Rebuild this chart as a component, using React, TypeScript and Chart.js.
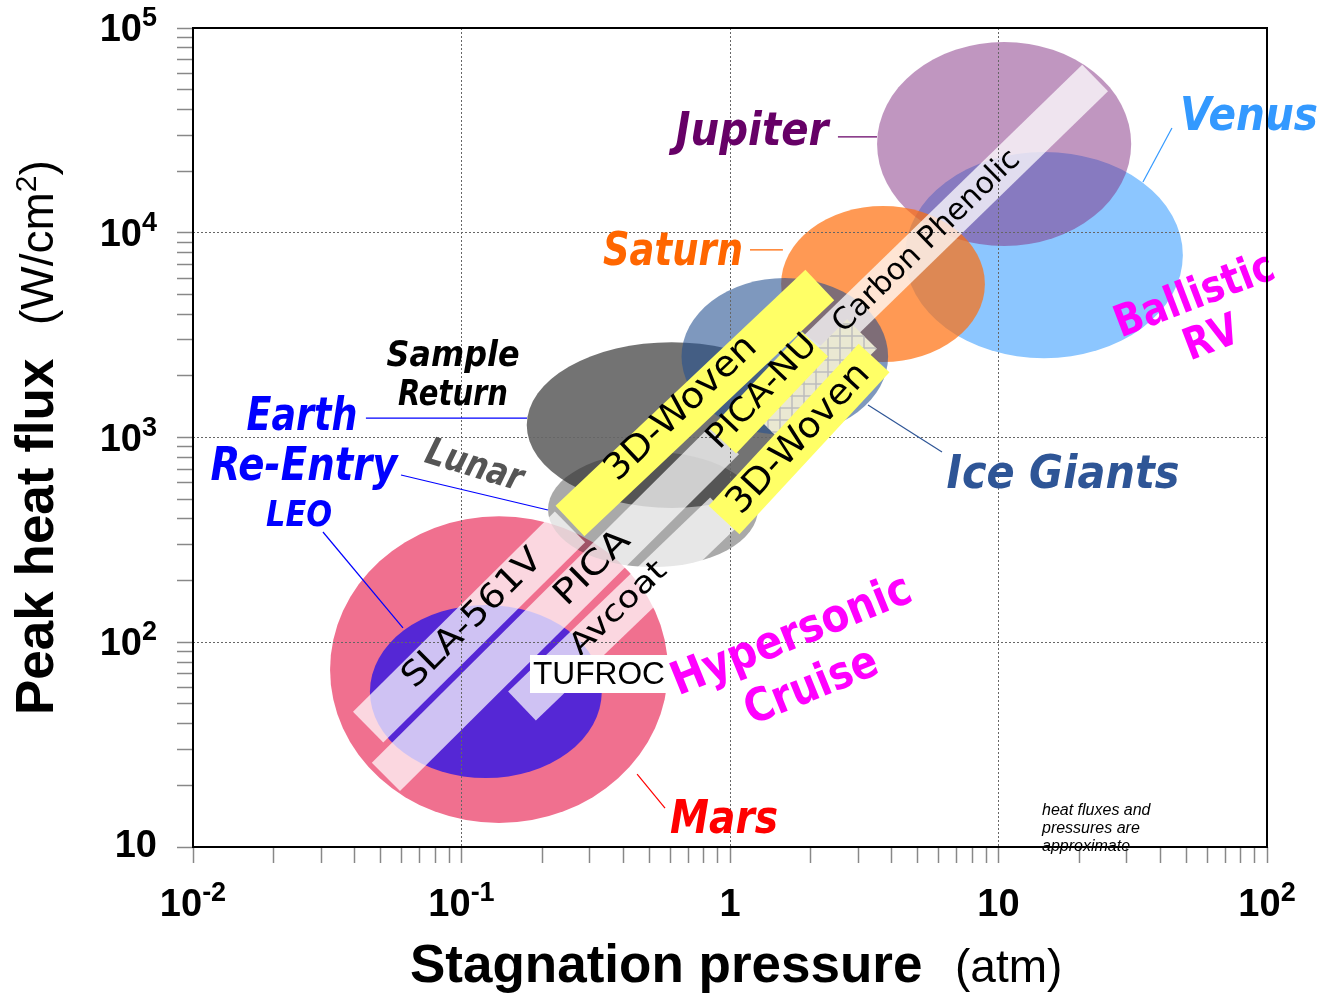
import React, { useEffect, useRef } from 'react';
import { Chart, registerables } from 'chart.js';

Chart.register(...registerables);

// ---------------- axes ----------------
const pressureRange = [0.01, 100]; // atm
const heatFluxRange = [10, 100000]; // W/cm2
const xMajorTicks = [0.01, 0.1, 1, 10, 100];
const xTickBase = ['10', '10', '1', '10', '10'];
const xTickExp = ['-2', '-1', '', '', '2'];
const yMajorTicks = [10, 100, 1000, 10000, 100000];
const yTickBase = ['10', '10', '10', '10', '10'];
const yTickExp = ['', '2', '3', '4', '5'];

// ---------------- entry environments (ellipses) ----------------
const regionNames = ['Mars', 'Earth LEO', 'Venus / Ballistic RV', 'Jupiter', 'Saturn', 'Earth Sample Return', 'Ice Giants', 'Lunar'];
const regionPressureMin = [0.0324, 0.0456, 4.49, 3.53, 1.55, 0.175, 0.66, 0.21];
const regionPressureMax = [0.587, 0.333, 48.6, 31.2, 8.9, 2.1, 3.88, 1.27];
const regionHeatFluxMin = [13.1, 21.7, 2440, 8620, 2340, 453, 1030, 233];
const regionHeatFluxMax = [412, 152, 24800, 85400, 13500, 2920, 6010, 849];

// ---------------- TPS materials (bands) ----------------
const materialNames = ['SLA-561V', 'PICA', 'Avcoat', 'Carbon Phenolic', '', '3D-Woven', 'PICA-NU', '3D-Woven'];
const materialPressureStart = [0.0449, 0.0523, 0.168, 1.823, 1.385, 0.2535, 0.942, 0.95];
const materialHeatFluxStart = [38.5, 22.0, 48.8, 2259, 1113, 391, 961, 395];
const materialPressureEnd = [0.2535, 0.957, 0.95, 22.9, 3.1, 2.16, 2.073, 3.44];
const materialHeatFluxEnd = [366, 972, 433, 57000, 3203, 5556, 2861, 2445];

// ---------------- styles ----------------
const regionColors = [
  '#F0708F',
  '#5527D5',
  '#8CC6FF',
  'rgba(129,45,129,0.5)',
  'rgba(255,109,12,0.7)',
  '#737373',
  'rgba(35,80,145,0.59)',
  'rgba(40,40,40,0.4)',
];

type BandStyle = { fill: string; width: number; front: boolean; label: null | { t: number; size: number; len: number; off: number } };
const bandStyles: BandStyle[] = [
  { fill: 'rgba(255,255,255,0.72)', width: 43, front: false, label: { t: 0.53, size: 34, len: 182, off: 3 } },
  { fill: 'rgba(255,255,255,0.72)', width: 40, front: false, label: { t: 0.615, size: 34, len: 92, off: 2 } },
  { fill: 'rgba(255,255,255,0.72)', width: 40, front: false, label: { t: 0.49, size: 30, len: 122, off: 3 } },
  { fill: 'rgba(255,255,255,0.75)', width: 37, front: false, label: { t: 0.43, size: 30, len: 248, off: 0 } },
  { fill: 'hatch', width: 42, front: false, label: null },
  { fill: '#FFFF66', width: 42, front: true, label: { t: 0.46, size: 36, len: 194, off: 5 } },
  { fill: '#FFFF66', width: 36, front: true, label: { t: 0.47, size: 33, len: 144, off: 5 } },
  { fill: '#FFFF66', width: 42, front: true, label: { t: 0.5, size: 36, len: 192, off: 0 } },
];

// region labels, anchored in log10(pressure), log10(heat flux)
const regionLabels = [
  { t: 'Jupiter', lx: 0.0819, ly: 4.4286, c: '#660066', s: 46, w: 153, it: true, rot: 0, mid: false },
  { t: 'Venus', lx: 1.933, ly: 4.5018, c: '#3399FF', s: 46, w: 138, it: true, rot: 0, mid: false },
  { t: 'Saturn', lx: -0.2123, ly: 3.8425, c: '#FF6600', s: 46, w: 140, it: true, rot: 0, mid: false },
  { t: 'Ice Giants', lx: 1.2402, ly: 2.7534, c: '#2E5596', s: 46, w: 233, it: true, rot: 0, mid: false },
  { t: 'Sample', lx: -1.0317, ly: 3.3492, c: '#000000', s: 36, w: 133, it: true, rot: 0, mid: false },
  { t: 'Return', lx: -1.0317, ly: 3.1587, c: '#000000', s: 36, w: 110, it: true, rot: 0, mid: false },
  { t: 'Earth', lx: -1.594, ly: 3.0366, c: '#0000FF', s: 46, w: 111, it: true, rot: 0, mid: false },
  { t: 'Re-Entry', lx: -1.5866, ly: 2.7924, c: '#0000FF', s: 46, w: 187, it: true, rot: 0, mid: false },
  { t: 'LEO', lx: -1.6052, ly: 2.5678, c: '#0000FF', s: 36, w: 66, it: true, rot: 0, mid: false },
  { t: 'Mars', lx: -0.0223, ly: 1.0684, c: '#FF0000', s: 46, w: 108, it: true, rot: 0, mid: false },
  { t: 'Lunar', lx: -0.9534, ly: 2.8559, c: '#555555', s: 38, w: 100, it: true, rot: 17, mid: true },
  { t: 'Hypersonic', lx: 0.2309, ly: 2.0256, c: '#FF00FF', s: 46, w: 255, it: false, rot: -22, mid: true },
  { t: 'Cruise', lx: 0.3054, ly: 1.7766, c: '#FF00FF', s: 46, w: 140, it: false, rot: -22, mid: true },
  { t: 'Ballistic', lx: 1.7318, ly: 3.6862, c: '#FF00FF', s: 44, w: 168, it: false, rot: -21, mid: true },
  { t: 'RV', lx: 1.7952, ly: 3.4762, c: '#FF00FF', s: 44, w: 56, it: false, rot: -21, mid: true },
];

// leader lines (log10 coordinates)
const leaderLines = [
  { a: [0.402, 4.468], b: [0.5475, 4.468], c: '#660066' },
  { a: [1.646, 4.512], b: [1.538, 4.248], c: '#3399FF' },
  { a: [0.0745, 3.916], b: [0.197, 3.916], c: '#FF6600' },
  { a: [0.514, 3.159], b: [0.7896, 2.929], c: '#2E5596' },
  { a: [-1.356, 3.095], b: [-0.756, 3.095], c: '#0000FF' },
  { a: [-1.2253, 2.817], b: [-0.678, 2.646], c: '#0000FF' },
  { a: [-1.516, 2.5385], b: [-1.218, 2.07], c: '#0000FF' },
  { a: [-0.346, 1.3565], b: [-0.242, 1.19], c: '#FF0000' },
];

const tufrocBox = { lx0: -0.7449, lx1: -0.2309, ly0: 1.7521, ly1: 1.9377 };
const noteLines = ['heat fluxes and', 'pressures are', 'approximate'];
const noteAnchor = { lx: 1.162, ly: 1.1563 };

const LABEL_FONT = '"DejaVu Sans", sans-serif';
const AXIS_FONT = '"Liberation Sans", Arial, sans-serif';

function minorTicks(lo: number, hi: number) {
  const out: number[] = [];
  for (let k = Math.round(Math.log10(lo)); k < Math.round(Math.log10(hi)); k++) {
    for (let n = 1; n <= 9; n++) out.push(n * Math.pow(10, k));
  }
  out.push(hi);
  return out;
}
const isMajor = (v: number) => Math.abs(Math.log10(v) - Math.round(Math.log10(v))) < 1e-9;

function fittedText(ctx: CanvasRenderingContext2D, text: string, x: number, y: number, font: string, color: string, width: number, rot = 0, baseline: CanvasTextBaseline = 'alphabetic') {
  ctx.save();
  ctx.translate(x, y);
  ctx.rotate((rot * Math.PI) / 180);
  ctx.font = font;
  ctx.fillStyle = color;
  ctx.textAlign = 'center';
  ctx.textBaseline = baseline;
  const m = ctx.measureText(text).width;
  if (width && m > 0) ctx.scale(width / m, 1);
  ctx.fillText(text, 0, 0);
  ctx.restore();
}

function bandGeom(chart: any, i: number) {
  const { x, y } = chart.scales;
  const x0 = x.getPixelForValue(materialPressureStart[i]);
  const y0 = y.getPixelForValue(materialHeatFluxStart[i]);
  const x1 = x.getPixelForValue(materialPressureEnd[i]);
  const y1 = y.getPixelForValue(materialHeatFluxEnd[i]);
  const dx = x1 - x0, dy = y1 - y0, L = Math.hypot(dx, dy);
  const w = bandStyles[i].width / 2;
  const nx = dy / L, ny = -dx / L; // up-left normal
  const corners = [
    [x0 + nx * w, y0 + ny * w],
    [x1 + nx * w, y1 + ny * w],
    [x1 - nx * w, y1 - ny * w],
    [x0 - nx * w, y0 - ny * w],
  ];
  return { x0, y0, x1, y1, dx, dy, nx, ny, corners };
}

function drawBand(ctx: CanvasRenderingContext2D, chart: any, i: number) {
  const g = bandGeom(chart, i);
  const st = bandStyles[i];
  ctx.save();
  ctx.beginPath();
  g.corners.forEach((c, k) => (k ? ctx.lineTo(c[0], c[1]) : ctx.moveTo(c[0], c[1])));
  ctx.closePath();
  if (st.fill === 'hatch') {
    ctx.fillStyle = '#EAE8D2';
    ctx.fill();
    ctx.clip();
    const xs = g.corners.map((c) => c[0]);
    const ys = g.corners.map((c) => c[1]);
    const minX = Math.min(...xs), maxX = Math.max(...xs), minY = Math.min(...ys), maxY = Math.max(...ys);
    ctx.strokeStyle = '#BDBDBD';
    ctx.lineWidth = 1.5;
    ctx.beginPath();
    for (let gx = Math.floor(minX / 12) * 12; gx <= maxX; gx += 12) {
      ctx.moveTo(gx, minY);
      ctx.lineTo(gx, maxY);
    }
    for (let gy = Math.floor(minY / 12) * 12; gy <= maxY; gy += 12) {
      ctx.moveTo(minX, gy);
      ctx.lineTo(maxX, gy);
    }
    ctx.stroke();
  } else {
    ctx.fillStyle = st.fill;
    ctx.fill();
  }
  ctx.restore();
}

function drawBandLabel(ctx: CanvasRenderingContext2D, chart: any, i: number) {
  const st = bandStyles[i];
  if (!st.label || !materialNames[i]) return;
  const g = bandGeom(chart, i);
  const cx = g.x0 + g.dx * st.label.t + g.nx * st.label.off;
  const cy = g.y0 + g.dy * st.label.t + g.ny * st.label.off;
  const rot = (Math.atan2(g.dy, g.dx) * 180) / Math.PI;
  fittedText(ctx, materialNames[i], cx, cy, `${st.label.size}px ${LABEL_FONT}`, '#000', st.label.len, rot, 'middle');
}

function powLabel(ctx: CanvasRenderingContext2D, base: string, exp: string, x: number, y: number, align: 'center' | 'right') {
  const bf = `bold 38px ${AXIS_FONT}`;
  const ef = `bold 27px ${AXIS_FONT}`;
  ctx.font = bf;
  const bw = ctx.measureText(base).width;
  ctx.font = ef;
  const ew = exp ? ctx.measureText(exp).width : 0;
  const total = bw + ew;
  const left = align === 'center' ? x - total / 2 : x - total;
  ctx.textAlign = 'left';
  ctx.textBaseline = 'alphabetic';
  ctx.fillStyle = '#000';
  ctx.font = bf;
  ctx.fillText(base, left, y);
  if (exp) {
    ctx.font = ef;
    ctx.fillText(exp, left + bw, y - 15);
  }
}

const tpsPlugin = {
  id: 'tpsPlugin',
  beforeDatasetsDraw(chart: any) {
    const { ctx, chartArea, scales } = chart;
    const { x, y } = scales;
    ctx.save();
    ctx.beginPath();
    ctx.rect(chartArea.left, chartArea.top, chartArea.right - chartArea.left, chartArea.bottom - chartArea.top);
    ctx.clip();
    for (let i = 0; i < regionNames.length; i++) {
      const xl = x.getPixelForValue(regionPressureMin[i]);
      const xr = x.getPixelForValue(regionPressureMax[i]);
      const yt = y.getPixelForValue(regionHeatFluxMax[i]);
      const yb = y.getPixelForValue(regionHeatFluxMin[i]);
      ctx.beginPath();
      ctx.ellipse((xl + xr) / 2, (yt + yb) / 2, (xr - xl) / 2, (yb - yt) / 2, 0, 0, Math.PI * 2);
      ctx.fillStyle = regionColors[i];
      ctx.fill();
    }
    for (let i = 0; i < materialNames.length; i++) if (!bandStyles[i].front) drawBand(ctx, chart, i);
    ctx.restore();
  },
  afterDraw(chart: any) {
    const { ctx, chartArea, scales } = chart;
    const { x, y } = scales;
    const X = (l: number) => x.getPixelForValue(Math.pow(10, l));
    const Y = (l: number) => y.getPixelForValue(Math.pow(10, l));
    ctx.save();
    for (let i = 0; i < materialNames.length; i++) if (bandStyles[i].front) drawBand(ctx, chart, i);
    for (let i = 0; i < materialNames.length; i++) drawBandLabel(ctx, chart, i);

    // TUFROC box
    const bx0 = X(tufrocBox.lx0), bx1 = X(tufrocBox.lx1), by0 = Y(tufrocBox.ly1), by1 = Y(tufrocBox.ly0);
    ctx.fillStyle = '#FFFFFF';
    ctx.fillRect(bx0, by0, bx1 - bx0, by1 - by0);
    fittedText(ctx, 'TUFROC', (bx0 + bx1) / 2, (by0 + by1) / 2 + 1, `31px ${AXIS_FONT}`, '#000', 132, 0, 'middle');

    // leader lines
    ctx.lineWidth = 1.2;
    leaderLines.forEach((l) => {
      ctx.strokeStyle = l.c;
      ctx.beginPath();
      ctx.moveTo(X(l.a[0]), Y(l.a[1]));
      ctx.lineTo(X(l.b[0]), Y(l.b[1]));
      ctx.stroke();
    });

    // region labels
    regionLabels.forEach((l) => {
      const font = `${l.it ? 'italic ' : ''}bold ${l.s}px ${LABEL_FONT}`;
      fittedText(ctx, l.t, X(l.lx), Y(l.ly), font, l.c, l.w, l.rot, l.mid ? 'middle' : 'alphabetic');
    });

    // note
    ctx.font = `italic 16px ${AXIS_FONT}`;
    ctx.fillStyle = '#000';
    ctx.textAlign = 'left';
    ctx.textBaseline = 'alphabetic';
    noteLines.forEach((t, k) => ctx.fillText(t, X(noteAnchor.lx), Y(noteAnchor.ly) + k * 18));

    // frame
    ctx.strokeStyle = '#000';
    ctx.lineWidth = 2;
    ctx.strokeRect(chartArea.left, chartArea.top, chartArea.right - chartArea.left, chartArea.bottom - chartArea.top);

    // tick labels
    xMajorTicks.forEach((v, k) => powLabel(ctx, xTickBase[k], xTickExp[k], x.getPixelForValue(v), chartArea.bottom + 69, 'center'));
    yMajorTicks.forEach((v, k) => powLabel(ctx, yTickBase[k], yTickExp[k], 157, y.getPixelForValue(v) + (k === 0 ? 10 : 13), 'right'));

    // x title
    ctx.fillStyle = '#000';
    ctx.textAlign = 'left';
    ctx.textBaseline = 'alphabetic';
    ctx.font = `bold 53px ${AXIS_FONT}`;
    ctx.fillText('Stagnation pressure', 410, 982);
    ctx.font = `46px ${AXIS_FONT}`;
    ctx.fillText('(atm)', 955, 982);

    // y title
    ctx.save();
    ctx.translate(53, 715);
    ctx.rotate(-Math.PI / 2);
    ctx.font = `bold 53px ${AXIS_FONT}`;
    ctx.fillText('Peak heat flux', 0, 0);
    ctx.font = `46px ${AXIS_FONT}`;
    let cx = 390;
    ctx.fillText('(W/cm', cx, 0);
    cx += ctx.measureText('(W/cm').width;
    ctx.font = `30px ${AXIS_FONT}`;
    ctx.fillText('2', cx, -17);
    cx += ctx.measureText('2').width;
    ctx.font = `46px ${AXIS_FONT}`;
    ctx.fillText(')', cx, 0);
    ctx.restore();

    ctx.restore();
  },
};

function axisOptions(range: number[]) {
  return {
    type: 'logarithmic' as const,
    min: range[0],
    max: range[1],
    afterBuildTicks: (scale: any) => {
      scale.ticks = minorTicks(range[0], range[1]).map((v) => ({ value: v }));
    },
    ticks: { display: false, autoSkip: false },
    border: { display: false, dash: [2, 2] },
    grid: {
      z: 1,
      lineWidth: 1,
      color: (c: any) => (c.tick && isMajor(c.tick.value) ? '#666666' : 'rgba(0,0,0,0)'),
      drawTicks: true,
      tickLength: 16,
      tickColor: '#888888',
      tickWidth: 1.5,
    },
  };
}

export default function App() {
  const ref = useRef<HTMLCanvasElement>(null);
  useEffect(() => {
    document.body.style.margin = '0';
    const chart = new Chart(ref.current as HTMLCanvasElement, {
      type: 'scatter',
      data: { datasets: [] },
      options: {
        responsive: false,
        animation: false,
        layout: { padding: { left: 177, right: 55, top: 28, bottom: 130 } },
        plugins: { legend: { display: false }, tooltip: { enabled: false } },
        scales: {
          x: axisOptions(pressureRange) as any,
          y: axisOptions(heatFluxRange) as any,
        },
      },
      plugins: [tpsPlugin],
    });
    return () => chart.destroy();
  }, []);
  return <canvas ref={ref} width={1322} height={993} style={{ display: 'block' }} />;
}
